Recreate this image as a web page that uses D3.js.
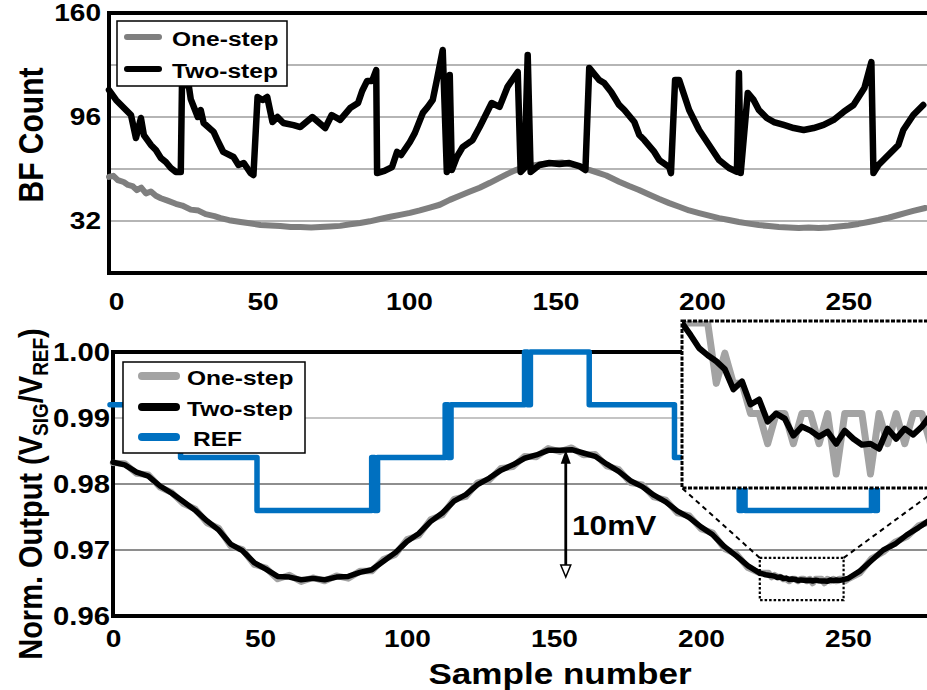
<!DOCTYPE html>
<html>
<head>
<meta charset="utf-8">
<script src="https://cdn.jsdelivr.net/npm/d3@7"></script>
<style>
  html, body { margin: 0; padding: 0; background: #fff; overflow: hidden; }
  svg { display: block; }
  text { font-family: "Liberation Sans", Arial, Helvetica, sans-serif; font-weight: bold; fill: #000; }
</style>
</head>
<body>
<svg id="chart" width="927" height="690"></svg>
<script>
// ---------- BF count per sample (upper panel), [sample, count] ----------
const bfOneStep = [
  [0,59.1],[1.5,59.8],[3,57.2],[5,56],[6.5,54.2],[8,53.5],[9.5,51],[11,52.5],[12.6,49],[14.3,50.2],
  [16,47.5],[17.7,46],[20,44.5],[22.8,42.6],[25,41.5],[27.9,39],[30.5,38.4],[33,36.2],[36,35],[38.1,33.8],
  [41,32.5],[44.9,31.4],[48,30.6],[51.7,29.5],[55,29.3],[58.5,28.9],[62,28.3],[65.3,28.3],[69,28],[72.1,28.3],
  [75.5,28.6],[78.9,29],[82.3,30],[85.7,30.8],[89,31.8],[92.5,33.2],[96,34.6],[99.3,35.8],[102.7,37],[106.1,38.5],
  [109.5,40.3],[112.9,42],[116.3,45],[119.7,47.5],[123,50],[126.5,52.5],[130,55.5],[133.3,58.5],[136,61],[138.4,63],
  [141.8,65.2],[144.5,66.2],[146.9,66.8],[149.5,67.4],[152,67.7],[154.5,68],[157.1,67],[160.5,65.8],[163.9,63.4],[167,61.6],
  [169.7,60],[172,58],[174.1,56.2],[177.5,53.5],[180.9,51.1],[184.3,48.3],[187.8,45.5],[191.2,43],[194.6,40.8],[198,38.5],
  [201.4,36.9],[204.8,35.3],[208.2,33.8],[211.6,32.6],[215,31.4],[218.4,30.4],[221.8,29.5],[225.2,28.9],[228.6,28.3],[232,28],
  [235.4,27.7],[238.8,28],[242.2,27.7],[245.6,28],[249,28.6],[252.4,29.2],[255.8,30.2],[259.2,31.4],[262.6,32.6],[266,34],
  [269.4,35.7],[272,37],[274.5,38.2],[278.6,40]
];

const bfTwoStep = [
  [0,112.6],[2.4,106.5],[5.8,100.3],[7.5,97.2],[9.2,83.1],[10.9,95.4],[11.9,84.9],[14.3,78.8],[16,75.7],[17.7,70.8],
  [19.4,68.3],[21.1,64.6],[22.8,62.2],[24.5,62.2],[24.9,115.5],[27.2,115.5],[27.9,107],[30.3,96],[31.3,100.3],[32.3,92.3],
  [35.7,86.8],[37,81.8],[39,74.5],[42.5,71.4],[44.2,66.5],[46,67.7],[48.3,61.5],[49.3,60.3],[50.7,108.3],[52.4,106.5],
  [54,108.3],[55.8,92.9],[57.5,96],[59.5,92.3],[63,91],[65.3,89.8],[69.4,96],[73.8,89.2],[76,97.2],[78.9,94.2],
  [82.3,101.5],[85,104.6],[86.4,112],[88.1,118.2],[89.8,118.2],[91.2,124.9],[91.5,61.5],[94,62.8],[96.6,65.2],[98.3,74.5],
  [99.7,72.6],[102.7,80.6],[104.4,86.2],[107.1,98.5],[108.8,102.2],[110.5,106.5],[111.9,118.8],[113.9,137.2],[115.3,62.2],[116.3,121.8],
  [117,63.4],[118.7,71.4],[120.7,77.5],[124.1,81.8],[126.5,89.8],[130.6,104.6],[133.3,102.2],[136,114.5],[139.5,123.7],[140.5,62.2],
  [141.8,64.6],[142.9,134.2],[143.9,62.2],[146.9,66.5],[150.3,67.7],[153.7,67.1],[157.1,67.7],[160.5,65.8],[162.6,63.4],[163.9,126.2],
  [167.3,118.8],[169,116.9],[171.4,111.4],[174.1,103.4],[175.9,100.3],[179.3,92.9],[181,84.9],[182.7,81.8],[186.1,74.5],[187.8,69.5],
  [191.2,65.2],[191.8,61.5],[193.2,118.8],[194.6,118.8],[196.3,109.5],[198,100.3],[199.7,94.2],[201.4,88],[204.8,78.8],[208.2,69.5],
  [211.6,64.6],[214.3,62.2],[215,123.1],[215.6,61.5],[218,110.8],[220,106.5],[221.8,100.3],[224.5,95.4],[226.9,92.9],[230.3,91.1],
  [233.7,89.2],[237.1,88],[240.5,89.2],[243.9,91.1],[247.3,94.2],[250.7,99.1],[254.1,103.4],[257.8,113.8],[260.2,129.8],[260.9,61.5],
  [262.6,66.5],[266,72.6],[269.4,78.8],[271.1,88],[274.5,97.2],[277.9,103.4]
];

// ---------- Normalised output (lower panel) ----------
const outSamples = [
  0,4,8,12,16,20,24,28,32,36,
  40,44,48,52,56,60,64,68,72,76,
  80,84,88,92,96,100,104,108,112,116,
  120,124,128,132,136,140,144,148,152,156,
  160,164,168,172,176,180,184,188,192,196,
  200,204,208,212,216,
  220,221,222,223,224,225,226,227,228,229,
  230,231,232,233,234,235,236,237,238,239,
  240,241,242,243,244,245,246,247,248,249,250,
  254,258,262,266,270,274,278
];
const outTwoStep = [
  .9833,.9829,.9818,.9812,.9797,.9786,.9773,.9760,.9744,.9730,
  .9709,.9699,.9681,.9671,.9660,.9659,.9655,.9657,.9655,.9659,
  .9660,.9666,.9670,.9683,.9696,.9713,.9725,.9743,.9756,.9774,
  .9784,.9799,.9809,.9821,.9829,.9839,.9844,.9851,.9851,.9852,
  .9847,.9842,.9830,.9819,.9805,.9796,.9783,.9773,.9759,.9749,
  .9735,.9723,.9705,.9691,.9676,
  .96650,.96638,.96625,.96618,.96612,.96604,.96584,.96592,.96569,.96574,
  .96552,.96560,.96555,.96538,.96547,.96543,.96537,.96542,.96530,.96543,
  .96535,.96529,.96530,.96525,.96545,.96535,.96545,.96539,.96547,.96558,.96568,
  .9668,.9684,.9700,.9709,.9723,.9734,.9746
];
const outOneStep = [
  .9832,.9831,.9816,.9814,.9795,.9787,.9770,.9762,.9741,.9733,
  .9706,.9701,.9678,.9673,.9656,.9662,.9652,.9658,.9653,.9661,
  .9657,.9668,.9668,.9686,.9693,.9716,.9722,.9746,.9753,.9777,
  .9781,.9802,.9806,.9824,.9826,.9842,.9841,.9854,.9849,.9855,
  .9844,.9845,.9827,.9822,.9802,.9799,.9780,.9776,.9756,.9752,
  .9732,.9726,.9702,.9694,.9673,
  .9665,.9665,.9665,.9665,.9659,.9662,.9659,.9659,.9656,.9656,
  .9653,.9656,.9656,.9653,.9656,.9656,.9653,.9656,.9650,.9656,
  .9656,.9656,.9650,.9656,.9653,.9656,.9653,.9656,.9656,.9653,.9656,
  .9665,.9687,.9697,.9712,.9720,.9737,.9743
];

// Reference level: value held from each start sample onward
const refStart = [0,24,50,89,90,91,114,115,116,141,142,143,163,192,214,215,216,259,260,261,280];
const refLevel = [0.992,0.984,0.976,0.984,0.976,0.984,0.992,0.984,0.992,1.000,0.992,1.000,0.992,0.984,0.976,0.984,0.976,0.984,0.976,0.984,0.984];

// Tick labels
const xTicks = [0, 50, 100, 150, 200, 250];
const bfTicks = [32, 96, 160];
const bfGrid = [32, 64, 96, 128];
const outTicks = [0.96, 0.97, 0.98, 0.99, 1.00];
const outGrid = [0.97, 0.98, 0.99];

// Zoomed window shown in the inset
const zoomSamples = [220, 248.5];
const zoomValues = [0.9624, 0.9688];
const insetSamples = [220, 250];
const insetValues = [0.96486, 0.96652];

// ---------- drawing ----------
const SX = 1.17;   // horizontal text stretch
const svg = d3.select("#chart");
const C = { one: "#7f7f7f", oneLight: "#a3a3a3", two: "#000", ref: "#0070c0" };

function stext(parent, x, y, str, size, anchor) {
  return parent.append("text")
    .attr("transform", `translate(${x},${y}) scale(${SX},1)`)
    .attr("text-anchor", anchor || "start")
    .attr("font-size", size)
    .text(str);
}

// ===== Upper panel =====
const xTop = d3.scaleLinear().domain([0, 280]).range([109, 109 + 2.93 * 280]);
const yTop = d3.scaleLinear().domain([0, 160]).range([273, 13]);
const gTop = svg.append("g");

gTop.selectAll("line.grid").data(bfGrid).join("line")
  .attr("x1", xTop(0)).attr("x2", 940)
  .attr("y1", d => yTop(d)).attr("y2", d => yTop(d))
  .attr("stroke", "#b5b5b5").attr("stroke-width", 2);

gTop.append("path")
  .attr("d", `M940,${yTop(160)}H${xTop(0)}V${yTop(0)}H940`)
  .attr("fill", "none").attr("stroke", "#000").attr("stroke-width", 4);

const lineTop = d3.line().x(d => xTop(d[0])).y(d => yTop(d[1]));
gTop.append("path").datum(bfOneStep).attr("d", lineTop)
  .attr("fill", "none").attr("stroke", C.one).attr("stroke-width", 6)
  .attr("stroke-linejoin", "round").attr("stroke-linecap", "round");
gTop.append("path").datum(bfTwoStep).attr("d", lineTop)
  .attr("fill", "none").attr("stroke", C.two).attr("stroke-width", 6.5)
  .attr("stroke-linejoin", "round").attr("stroke-linecap", "round");

// x axis labels
const axTopX = gTop.append("g").attr("transform", `translate(7,${yTop(0)})`)
  .call(d3.axisBottom(xTop).tickValues(xTicks).tickSize(0).tickPadding(20));
axTopX.select(".domain").remove();
axTopX.selectAll("text").attr("font-size", 24).attr("font-family", null)
  .attr("transform", `scale(${SX},1)`);

// y axis labels
const axTopY = gTop.append("g").attr("transform", "translate(101,0)")
  .call(d3.axisLeft(yTop).tickValues(bfTicks).tickSize(0).tickPadding(0));
axTopY.select(".domain").remove();
axTopY.selectAll("text").attr("font-size", 24).attr("font-family", null)
  .attr("transform", `scale(${SX},1)`);

gTop.append("text")
  .attr("transform", `translate(43,135) scale(${SX},1) rotate(-90)`)
  .attr("text-anchor", "middle").attr("font-size", 30).text("BF Count");

// legend
const legTop = gTop.append("g");
legTop.append("rect").attr("x", 117).attr("y", 21).attr("width", 170).attr("height", 65)
  .attr("fill", "#fff").attr("stroke", "#000").attr("stroke-width", 1.5);
[{ name: "One-step", color: C.one, y: 37 }, { name: "Two-step", color: C.two, y: 69 }].forEach(e => {
  legTop.append("line").attr("x1", 127).attr("x2", 159).attr("y1", e.y).attr("y2", e.y)
    .attr("stroke", e.color).attr("stroke-width", 6).attr("stroke-linecap", "round");
  stext(legTop, 172, e.y + 9, e.name, 21);
});

// ===== Lower panel =====
const xBot = d3.scaleLinear().domain([0, 280]).range([113, 113 + 2.94 * 280]);
const yBot = d3.scaleLinear().domain([0.96, 1.00]).range([616, 352]);
const gBot = svg.append("g");

gBot.selectAll("line.grid").data(outGrid).join("line")
  .attr("x1", xBot(0)).attr("x2", 940)
  .attr("y1", d => yBot(d)).attr("y2", d => yBot(d))
  .attr("stroke", d => d === 0.99 ? "#c4c4c4" : "#8e8e8e").attr("stroke-width", 2);

gBot.append("path")
  .attr("d", `M940,${yBot(1.0)}H${xBot(0)}V${yBot(0.96)}H940`)
  .attr("fill", "none").attr("stroke", "#000").attr("stroke-width", 4);

const refData = refStart.map((s, i) => [s, refLevel[i]]);
gBot.append("path").datum(refData)
  .attr("d", d3.line().curve(d3.curveStepAfter).x(d => xBot(d[0]) - 3).y(d => yBot(d[1])))
  .attr("fill", "none").attr("stroke", C.ref).attr("stroke-width", 5.5)
  .attr("stroke-linejoin", "round").attr("stroke-linecap", "round");

const outOne = outSamples.map((s, i) => [s, outOneStep[i]]);
const outTwo = outSamples.map((s, i) => [s, outTwoStep[i]]);
const lineBot = d3.line().x(d => xBot(d[0])).y(d => yBot(d[1]));
gBot.append("path").datum(outOne).attr("d", lineBot)
  .attr("fill", "none").attr("stroke", C.oneLight).attr("stroke-width", 6.5)
  .attr("stroke-linejoin", "round").attr("stroke-linecap", "round");
gBot.append("path").datum(outTwo).attr("d", lineBot)
  .attr("fill", "none").attr("stroke", C.two).attr("stroke-width", 5.5)
  .attr("stroke-linejoin", "round").attr("stroke-linecap", "round");

const axBotX = gBot.append("g").attr("transform", `translate(0,${yBot(0.96)})`)
  .call(d3.axisBottom(xBot).tickValues(xTicks).tickSize(0).tickPadding(14));
axBotX.select(".domain").remove();
axBotX.selectAll("text").attr("font-size", 24).attr("font-family", null)
  .attr("transform", `scale(${SX},1)`);

const axBotY = gBot.append("g").attr("transform", "translate(110,0)")
  .call(d3.axisLeft(yBot).tickValues(outTicks).tickFormat(d3.format(".2f")).tickSize(0).tickPadding(0));
axBotY.select(".domain").remove();
axBotY.selectAll("text").attr("font-size", 25).attr("font-family", null)
  .attr("transform", `scale(${SX},1)`);

// y title with subscripts
const yTitle = gBot.append("text")
  .attr("transform", `translate(42,494) scale(${SX},1) rotate(-90)`)
  .attr("text-anchor", "middle").attr("font-size", 29);
yTitle.append("tspan").text("Norm. Output (V");
yTitle.append("tspan").attr("font-size", 19).attr("dy", 5).text("SIG");
yTitle.append("tspan").attr("dy", -5).text("/V");
yTitle.append("tspan").attr("font-size", 19).attr("dy", 5).text("REF");
yTitle.append("tspan").attr("dy", -5).text(")");

stext(gBot, 560, 684, "Sample number", 30, "middle");

// legend
const legBot = gBot.append("g");
legBot.append("rect").attr("x", 123).attr("y", 362).attr("width", 182).attr("height", 91)
  .attr("fill", "#fff").attr("stroke", "#000").attr("stroke-width", 1.5);
[{ name: "One-step", color: C.oneLight, y: 376, tx: 187 },
 { name: "Two-step", color: C.two, y: 407, tx: 187 },
 { name: "REF", color: C.ref, y: 437, tx: 193 }].forEach(e => {
  legBot.append("line").attr("x1", 142).attr("x2", 176).attr("y1", e.y).attr("y2", e.y)
    .attr("stroke", e.color).attr("stroke-width", 8).attr("stroke-linecap", "round");
  stext(legBot, e.tx, e.y + 9, e.name, 21);
});

// 10mV span marker
const peakS = 154, peakV = 0.9852, lowV = 0.9659;
const ax = xBot(peakS), ayTop = yBot(peakV), ayBot = yBot(lowV);
gBot.append("line").attr("x1", ax).attr("x2", ax).attr("y1", ayTop + 6).attr("y2", ayBot - 6)
  .attr("stroke", "#000").attr("stroke-width", 2.8);
gBot.append("path").attr("d", `M${ax},${ayTop}L${ax - 5},${ayTop + 14}L${ax + 5},${ayTop + 14}Z`)
  .attr("fill", "#000");
gBot.append("path").attr("d", `M${ax},${ayBot}L${ax - 5},${ayBot - 12}L${ax + 5},${ayBot - 12}Z`)
  .attr("fill", "#fff").attr("stroke", "#000").attr("stroke-width", 1.5);
stext(gBot, 572, 535, "10mV", 27);

// zoom window marker and connectors
const zx0 = xBot(zoomSamples[0]), zx1 = xBot(zoomSamples[1]);
const zy0 = yBot(zoomValues[1]), zy1 = yBot(zoomValues[0]);
gBot.append("rect").attr("x", zx0).attr("y", zy0).attr("width", zx1 - zx0).attr("height", zy1 - zy0)
  .attr("fill", "none").attr("stroke", "#000").attr("stroke-width", 2.2).attr("stroke-dasharray", "2.5,2");

const xIn = d3.scaleLinear().domain(insetSamples).range([682, 939]);
const yIn = d3.scaleLinear().domain(insetValues).range([488, 321]);

gBot.append("line").attr("x1", zx0).attr("y1", zy0).attr("x2", xIn.range()[0]).attr("y2", yIn.range()[0])
  .attr("stroke", "#000").attr("stroke-width", 2).attr("stroke-dasharray", "5,4");
gBot.append("line").attr("x1", zx1).attr("y1", zy0).attr("x2", xIn.range()[1]).attr("y2", yIn.range()[0])
  .attr("stroke", "#000").attr("stroke-width", 2).attr("stroke-dasharray", "5,4");

// inset
const inset = gBot.append("g");
svg.append("defs").append("clipPath").attr("id", "insetClip")
  .append("rect").attr("x", 682).attr("y", 321).attr("width", 257).attr("height", 167);
inset.append("rect").attr("x", 682).attr("y", 321).attr("width", 257).attr("height", 167).attr("fill", "#fff");
const lineIn = d3.line().x(d => xIn(d[0])).y(d => yIn(d[1]));
const inWin = d => d[0] >= 216 && d[0] <= 254;
const inPlot = inset.append("g").attr("clip-path", "url(#insetClip)");
inPlot.append("path").datum(outOne.filter(inWin)).attr("d", lineIn)
  .attr("fill", "none").attr("stroke", C.oneLight).attr("stroke-width", 7)
  .attr("stroke-linejoin", "round");
inPlot.append("path").datum(outTwo.filter(inWin)).attr("d", lineIn)
  .attr("fill", "none").attr("stroke", C.two).attr("stroke-width", 6)
  .attr("stroke-linejoin", "round");
inset.append("rect").attr("x", 682).attr("y", 321).attr("width", 257).attr("height", 167)
  .attr("fill", "none").attr("stroke", "#000").attr("stroke-width", 3).attr("stroke-dasharray", "4,1.5");
</script>
</body>
</html>
